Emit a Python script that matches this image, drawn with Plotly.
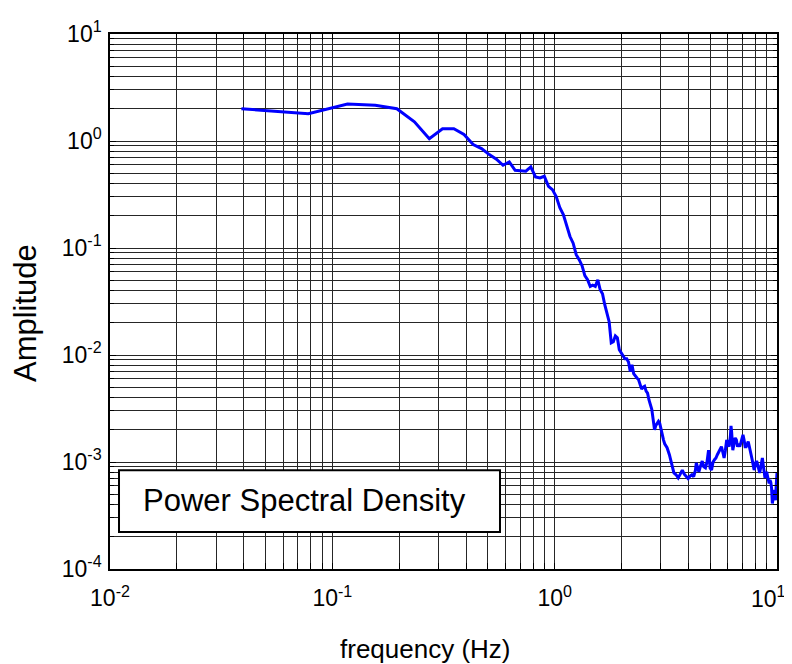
import plotly.graph_objects as go

# Frequency bins (Hz) and PSD amplitude
freq = [0.039, 0.078, 0.117, 0.156, 0.195, 0.234, 0.273, 0.313, 0.352, 0.391,
        0.430, 0.469, 0.508, 0.547, 0.586, 0.625, 0.664, 0.703, 0.742, 0.781,
        0.820, 0.859, 0.898, 0.938, 0.977, 1.016, 1.055, 1.094, 1.133, 1.172,
        1.211, 1.250, 1.289, 1.328, 1.367, 1.406, 1.445, 1.484, 1.523, 1.563,
        1.602, 1.641, 1.680, 1.719, 1.758, 1.797, 1.836, 1.875, 1.914, 1.953,
        1.992, 2.031, 2.070, 2.109, 2.148, 2.188, 2.227, 2.266, 2.305, 2.344,
        2.383, 2.422, 2.461, 2.500, 2.539, 2.578, 2.617, 2.656, 2.695, 2.734,
        2.773, 2.813, 2.852, 2.891, 2.930, 2.969, 3.008, 3.047, 3.086, 3.125,
        3.203, 3.281, 3.320, 3.359, 3.398, 3.438, 3.516, 3.594, 3.672, 3.750,
        3.828, 3.906, 3.984, 4.063, 4.141, 4.219, 4.297, 4.336, 4.375, 4.453,
        4.531, 4.609, 4.688, 4.766, 4.844, 4.883, 4.922, 4.961, 5.000, 5.078,
        5.156, 5.234, 5.313, 5.391, 5.469, 5.547, 5.625, 5.703, 5.781, 5.859,
        5.938, 6.016, 6.094, 6.172, 6.211, 6.250, 6.289, 6.328, 6.406, 6.484,
        6.563, 6.641, 6.719, 6.797, 6.875, 6.953, 7.031, 7.109, 7.188, 7.266,
        7.344, 7.422, 7.500, 7.578, 7.656, 7.734, 7.813, 7.891, 7.969, 8.047,
        8.125, 8.203, 8.281, 8.359, 8.438, 8.516, 8.594, 8.672, 8.750, 8.828,
        8.906, 8.984, 9.063, 9.141, 9.219, 9.297, 9.375, 9.453, 9.531, 9.609,
        9.688, 9.766, 9.844, 9.922, 10.00]

amplitude = [2.00, 1.80, 2.22, 2.16, 2.00, 1.51, 1.05, 1.30, 1.30, 1.15,
             0.925, 0.849, 0.746, 0.677, 0.593, 0.637, 0.532, 0.523, 0.522, 0.573,
             0.462, 0.452, 0.468, 0.377, 0.351, 0.302, 0.238, 0.205, 0.165, 0.128,
             0.111, 0.0866, 0.0777, 0.0683, 0.0551, 0.0505, 0.0437, 0.0449, 0.0437, 0.0505,
             0.0407, 0.0374, 0.0295, 0.0243, 0.0205, 0.0130, 0.0133, 0.0151, 0.0145, 0.0112,
             0.0105, 0.0100, 0.0092, 0.0092, 0.0086, 0.0070, 0.0081, 0.0067, 0.0063, 0.0061,
             0.0059, 0.0052, 0.0048, 0.0050, 0.0051, 0.0046, 0.0044, 0.0038, 0.0034, 0.0031,
             0.0025, 0.0020, 0.0022, 0.0023, 0.0024, 0.0023, 0.0020, 0.00175, 0.00161, 0.00148,
             0.00136, 0.00117, 0.00105, 0.00094, 0.00084, 0.00079, 0.00076, 0.00071, 0.00077, 0.00084,
             0.00077, 0.00073, 0.00070, 0.00074, 0.00076, 0.00073, 0.00084, 0.00098, 0.00092, 0.00081,
             0.00092, 0.00102, 0.00090, 0.00088, 0.00100, 0.00117, 0.00129, 0.00109, 0.00088, 0.00084,
             0.00100, 0.00105, 0.00109, 0.00117, 0.00124, 0.00136, 0.00139, 0.00124, 0.00109, 0.00129,
             0.00161, 0.00148, 0.00139, 0.00175, 0.00218, 0.00191, 0.00155, 0.00129, 0.00148, 0.00168,
             0.00161, 0.00139, 0.00148, 0.00139, 0.00151, 0.00168, 0.00179, 0.00161, 0.00139, 0.00139,
             0.00151, 0.00155, 0.00141, 0.00124, 0.00117, 0.00105, 0.00094, 0.00084, 0.00092, 0.00100,
             0.00100, 0.00092, 0.00084, 0.00079, 0.00088, 0.00105, 0.00109, 0.00094, 0.00076, 0.00071,
             0.00077, 0.00081, 0.00074, 0.00065, 0.00063, 0.00068, 0.00065, 0.00057, 0.00041, 0.00046,
             0.00055, 0.00049, 0.00044, 0.00061, 0.00079]

x_major = [0.01, 0.1, 1, 10]
x_major_text = ["10<sup>-2</sup>", "10<sup>-1</sup>", "10<sup>0</sup>", "10<sup>1</sup>"]
y_major = [1e-4, 1e-3, 1e-2, 1e-1, 1, 10]
y_major_text = ["10<sup>-4</sup>", "10<sup>-3</sup>", "10<sup>-2</sup>",
                "10<sup>-1</sup>", "10<sup>0</sup>", "10<sup>1</sup>"]
x_minor = [m * d for d in [0.01, 0.1, 1] for m in range(2, 10)]
y_minor = [m * d for d in [1e-4, 1e-3, 1e-2, 1e-1, 1] for m in range(2, 10)]

legend_text = "Power Spectral Density"
x_label = "frequency (Hz)"
y_label = "Amplitude"

FONT = "Liberation Sans, Arial, Helvetica, sans-serif"
GRID = "#262626"

fig = go.Figure()
fig.add_trace(go.Scatter(x=freq, y=amplitude, mode="lines",
                         line=dict(color="#0000ff", width=3),
                         showlegend=False, hoverinfo="skip"))

axis_common = dict(
    type="log",
    automargin=False,
    showline=True, linecolor="black", linewidth=1.5, mirror="allticks",
    ticks="inside", ticklen=6, tickcolor="black", tickwidth=1,
    showgrid=True, gridcolor=GRID, gridwidth=1,
    zeroline=False,
    tickfont=dict(family=FONT, size=23, color="black"),
)

# the last x label sits at the page edge; it is drawn as an annotation
# pulled slightly left (as in the reference) so that it is not clipped
fig.update_xaxes(
    **axis_common,
    range=[-2, 1],
    ticklabelstandoff=8,
    tickmode="array", tickvals=x_major[:-1], ticktext=x_major_text[:-1],
    minor=dict(tickmode="array", tickvals=x_minor + [x_major[-1]], showgrid=True,
               gridcolor=GRID, gridwidth=1,
               ticks="inside", ticklen=6, tickcolor="black"),
)
fig.update_yaxes(
    **axis_common,
    range=[-4, 1],
    ticklabelstandoff=2,
    tickmode="array", tickvals=y_major, ticktext=y_major_text,
    minor=dict(tickmode="array", tickvals=y_minor, showgrid=True,
               gridcolor=GRID, gridwidth=1, ticks="inside", ticklen=4,
               tickcolor="black"),
)

fig.add_annotation(text=x_major_text[-1], x=1.0, xref="x", xshift=11,
                   y=-0.0525, yref="paper", xanchor="right", yanchor="middle",
                   showarrow=False, font=dict(family=FONT, size=23, color="black"))

# legend-like box
fig.add_shape(type="rect", xref="paper", yref="paper",
              x0=0.0135, x1=0.5847, y0=0.0692, y1=0.1847,
              fillcolor="white", line=dict(color="black", width=2), layer="above")
fig.add_annotation(text=legend_text, xref="paper", yref="paper",
                   x=0.046, y=0.1272, xanchor="left", yanchor="middle",
                   showarrow=False, font=dict(family=FONT, size=31, color="black"))

fig.add_annotation(text=x_label, xref="paper", yref="paper",
                   x=0.473, y=-0.1497, xanchor="center", yanchor="middle",
                   showarrow=False, font=dict(family=FONT, size=26, color="black"))
fig.add_annotation(text=y_label, xref="paper", yref="paper", textangle=-90,
                   x=-0.127, y=0.479, xanchor="center", yanchor="middle",
                   showarrow=False, font=dict(family=FONT, size=31, color="black"))

# page body has an 8px margin: shift the figure so the plot area matches
fig.update_layout(
    width=784, height=656,
    margin=dict(l=102, r=15, t=26, b=95, autoexpand=False),
    paper_bgcolor="white", plot_bgcolor="white",
    font=dict(family=FONT, color="black"),
)

fig.write_html("out.html")
